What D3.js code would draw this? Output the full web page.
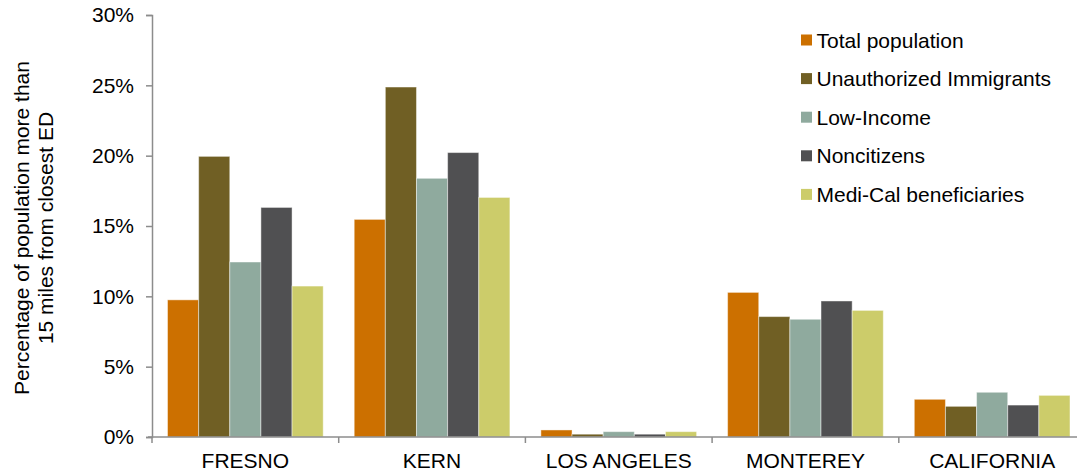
<!DOCTYPE html>
<html>
<head>
<meta charset="utf-8">
<script src="https://cdn.jsdelivr.net/npm/d3@7"></script>
<style>
  body { margin: 0; background: #fff; }
  svg { display: block; font-family: "Liberation Sans", Arial, sans-serif; }
</style>
</head>
<body>
<div id="chart"></div>
<script>
// counties along the x axis
const counties = ["FRESNO", "KERN", "LOS ANGELES", "MONTEREY", "CALIFORNIA"];

// series names and colours
const seriesNames = ["Total population", "Unauthorized Immigrants", "Low-Income", "Noncitizens", "Medi-Cal beneficiaries"];
const seriesColors = ["#cc7000", "#705f24", "#8faa9e", "#505052", "#cccc6a"];

// percent of population more than 15 miles from closest ED, one array per series
const totalPopulation = [9.75, 15.47, 0.5, 10.28, 2.68];
const unauthorized = [19.95, 24.88, 0.2, 8.56, 2.18];
const lowIncome = [12.44, 18.39, 0.38, 8.37, 3.18];
const noncitizens = [16.32, 20.22, 0.2, 9.67, 2.27];
const mediCal = [10.73, 17.03, 0.38, 9.0, 2.96];

const yTicks = [0, 5, 10, 15, 20, 25, 30];

const seriesValues = [totalPopulation, unauthorized, lowIncome, noncitizens, mediCal];

const width = 1077, height = 476;
const margin = {top: 15, left: 152, bottom: 39};
const plotBottom = height - margin.bottom; // 437
const fontSize = 21;

const svg = d3.select("#chart").append("svg")
    .attr("width", width)
    .attr("height", height);

// scales
const x0 = d3.scaleBand()
    .domain(counties)
    .range([margin.left, margin.left + 5 * 186.7]);

const x1 = d3.scaleBand()
    .domain(seriesNames)
    .range([15.5, x0.bandwidth() - 15.5]);

const y = d3.scaleLinear()
    .domain([0, 30])
    .range([plotBottom, margin.top]);

// build rows for the bars
const rows = [];
counties.forEach((c, i) => {
    seriesNames.forEach((s, j) => {
        rows.push({county: c, series: s, value: seriesValues[j][i], color: seriesColors[j]});
    });
});

// draw bars
svg.append("g")
    .selectAll("rect")
    .data(rows)
    .join("rect")
    .attr("x", d => x0(d.county) + x1(d.series))
    .attr("y", d => y(d.value))
    .attr("width", x1.bandwidth())
    .attr("height", d => y(0) - y(d.value))
    .attr("fill", d => d.color)
    .attr("stroke", "#fff")
    .attr("stroke-opacity", 0.45)
    .attr("stroke-width", 1);

const axisColor = "#8c8c8c";

// y axis
const yAxis = d3.axisLeft(y)
    .tickValues(yTicks)
    .tickFormat(d => d + "%")
    .tickSize(6)
    .tickPadding(12);

svg.append("g")
    .attr("transform", `translate(${margin.left},0)`)
    .call(yAxis)
    .call(g => g.select(".domain").attr("stroke", axisColor).attr("stroke-width", 1.5))
    .call(g => g.selectAll(".tick line").attr("stroke", axisColor).attr("stroke-width", 1.5))
    .call(g => g.selectAll(".tick text")
        .attr("font-size", fontSize)
        .attr("font-family", "Liberation Sans, Arial, sans-serif")
        .attr("fill", "#000"));

// x axis
const xg = svg.append("g")
    .attr("transform", `translate(0,${plotBottom})`);

xg.append("line")
    .attr("x1", margin.left - 4)
    .attr("x2", width)
    .attr("stroke", axisColor)
    .attr("stroke-width", 1.5);

xg.selectAll("line.tick")
    .data(counties)
    .join("line")
    .attr("class", "tick")
    .attr("x1", d => x0(d))
    .attr("x2", d => x0(d))
    .attr("y1", 0)
    .attr("y2", 6)
    .attr("stroke", axisColor)
    .attr("stroke-width", 1.5);

xg.selectAll("text")
    .data(counties)
    .join("text")
    .attr("x", d => x0(d) + x0.bandwidth() / 2)
    .attr("y", 31)
    .attr("text-anchor", "middle")
    .attr("font-size", fontSize)
    .attr("fill", "#000")
    .text(d => d);

// y axis title
const yTitle = svg.append("text")
    .attr("transform", "translate(29,228) rotate(-90)")
    .attr("text-anchor", "middle")
    .attr("font-size", fontSize)
    .attr("fill", "#000");
yTitle.append("tspan").attr("x", 0).attr("dy", 0).text("Percentage of population more than");
yTitle.append("tspan").attr("x", 0).attr("dy", 23.5).text("15 miles from closest ED");

// legend
const legend = svg.append("g")
    .selectAll("g")
    .data(seriesNames)
    .join("g")
    .attr("transform", (d, i) => `translate(801,${40 + i * 38.6})`);

legend.append("rect")
    .attr("x", 0)
    .attr("y", -5.5)
    .attr("width", 11)
    .attr("height", 11)
    .attr("fill", (d, i) => seriesColors[i]);

legend.append("text")
    .attr("x", 15.5)
    .attr("y", 7.5)
    .attr("font-size", fontSize)
    .attr("fill", "#000")
    .text(d => d);
</script>
</body>
</html>
